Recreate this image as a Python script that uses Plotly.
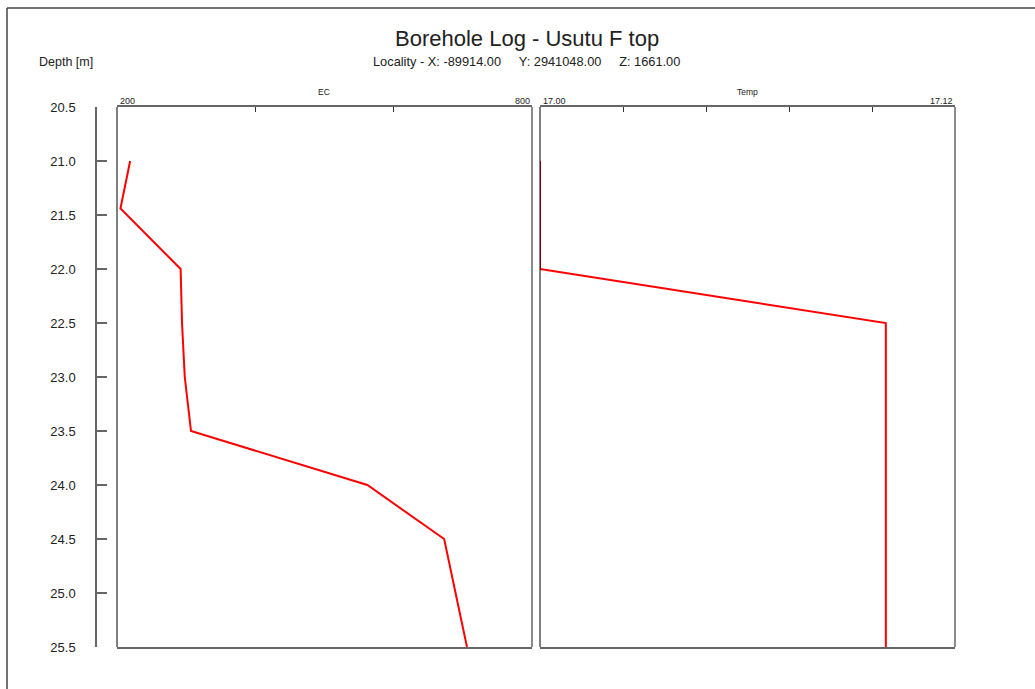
import plotly.graph_objects as go

# Borehole readings
ec_depth = [21.0, 21.44, 22.0, 22.5, 23.0, 23.5, 24.0, 24.5, 25.5]
ec_value = [219, 205, 292, 294, 298, 307, 562, 673, 706]

temp_depth = [21.0, 22.0, 22.5, 25.5]
temp_value = [17.00, 17.00, 17.10, 17.10]

depth_ticks = [20.5, 21.0, 21.5, 22.0, 22.5, 23.0, 23.5, 24.0, 24.5, 25.0, 25.5]
depth_range = [25.5, 20.5]
ec_range = [200, 800]
ec_ticks = [200, 400, 600, 800]
temp_range = [17.00, 17.12]
temp_ticks = [17.00, 17.024, 17.048, 17.072, 17.096, 17.12]

title = "Borehole Log - Usutu F top"
sp = "\u00a0" * 5
subtitle = "Locality - X: -89914.00" + sp + "Y: 2941048.00" + sp + "Z: 1661.00"

W, H = 1035, 689
FONT = "Liberation Sans, Arial, sans-serif"
TXT = "#222222"
EDGE = "#666666"


def px(x):
    return x / W


def py(y):
    return 1 - y / H


ydom = [py(647), py(107)]

fig = go.Figure()
fig.add_trace(go.Scatter(x=ec_value, y=ec_depth, mode="lines",
                         line=dict(color="#ff0000", width=2),
                         xaxis="x", yaxis="y", showlegend=False))
fig.add_trace(go.Scatter(x=temp_value, y=temp_depth, mode="lines",
                         line=dict(color="#ff0000", width=2),
                         xaxis="x2", yaxis="y2", showlegend=False))
# carrier for the free depth axis
fig.add_trace(go.Scatter(x=[ec_range[0]] * len(depth_ticks), y=depth_ticks,
                         mode="markers", marker=dict(opacity=0, size=1),
                         xaxis="x", yaxis="y3", showlegend=False,
                         hoverinfo="skip"))

panel_x = dict(side="top", showline=True, mirror=True, linecolor=EDGE,
               linewidth=1.5, ticks="inside", ticklen=5, tickwidth=1,
               tickcolor="#333333", showticklabels=False, showgrid=False,
               zeroline=False, fixedrange=True, automargin=False)
panel_y = dict(range=depth_range, showline=False, showticklabels=False,
               ticks="", showgrid=False, zeroline=False, domain=ydom,
               automargin=False)

fig.update_layout(
    width=W, height=H,
    margin=dict(l=0, r=0, t=0, b=0, pad=0, autoexpand=False),
    paper_bgcolor="white", plot_bgcolor="white",
    font=dict(family=FONT, color=TXT),
    xaxis=dict(panel_x, domain=[px(117), px(532)], range=ec_range,
               tickvals=ec_ticks, anchor="y"),
    xaxis2=dict(panel_x, domain=[px(540), px(955)], range=temp_range,
                tickvals=temp_ticks, anchor="y2"),
    yaxis=dict(panel_y, anchor="x"),
    yaxis2=dict(panel_y, anchor="x2", matches="y"),
    yaxis3=dict(range=depth_range, domain=ydom, anchor="free",
                overlaying="y", position=px(96), side="left",
                showline=True, linecolor=EDGE, linewidth=1.5,
                ticks="inside", ticklen=10, tickwidth=1.5, tickcolor=EDGE,
                tickvals=depth_ticks, tickformat=".1f",
                tickfont=dict(size=13, color=TXT, family=FONT),
                ticklabelstandoff=17, showgrid=False, zeroline=False,
                automargin=False),
)

ann = [
    dict(text=title, x=px(527), y=py(38), font=dict(size=22)),
    dict(text=subtitle, x=px(526), y=py(62), font=dict(size=12.8)),
    dict(text="Depth [m]", x=px(66), y=py(62), font=dict(size=12.5)),
    dict(text="EC", x=px(324), y=py(92), font=dict(size=8.5)),
    dict(text="Temp", x=px(747), y=py(92), font=dict(size=8.5)),
    dict(text=str(ec_range[0]), x=px(118), y=py(101), xanchor="left",
         font=dict(size=9)),
    dict(text=str(ec_range[1]), x=px(532), y=py(101), xanchor="right",
         font=dict(size=9)),
    dict(text=f"{temp_range[0]:.2f}", x=px(541), y=py(101), xanchor="left",
         font=dict(size=9)),
    dict(text=f"{temp_range[1]:.2f}", x=px(955), y=py(101), xanchor="right",
         font=dict(size=9)),
]
for a in ann:
    a.setdefault("xanchor", "center")
    fig.add_annotation(xref="paper", yref="paper", yanchor="middle",
                       showarrow=False, **a)

shapes = [
    # page frame (left and top edges)
    dict(type="line", xref="paper", yref="paper", x0=px(7), x1=1.0,
         y0=py(8), y1=py(8), line=dict(color="#444444", width=1.5)),
    dict(type="line", xref="paper", yref="paper", x0=px(7), x1=px(7),
         y0=py(8), y1=0.0, line=dict(color="#444444", width=1.5)),
]
# panel side edges: thin black on the left, grey on the right
for xd, yd in (("x domain", "y domain"), ("x2 domain", "y2 domain")):
    shapes.append(dict(type="line", xref=xd, yref=yd, x0=0, x1=0, y0=0, y1=1,
                       line=dict(color="black", width=1)))
    shapes.append(dict(type="line", xref=xd, yref=yd, x0=1, x1=1, y0=0, y1=1,
                       line=dict(color=EDGE, width=1.5)))
for s in shapes:
    fig.add_shape(**s)

fig.write_html("out.html")
